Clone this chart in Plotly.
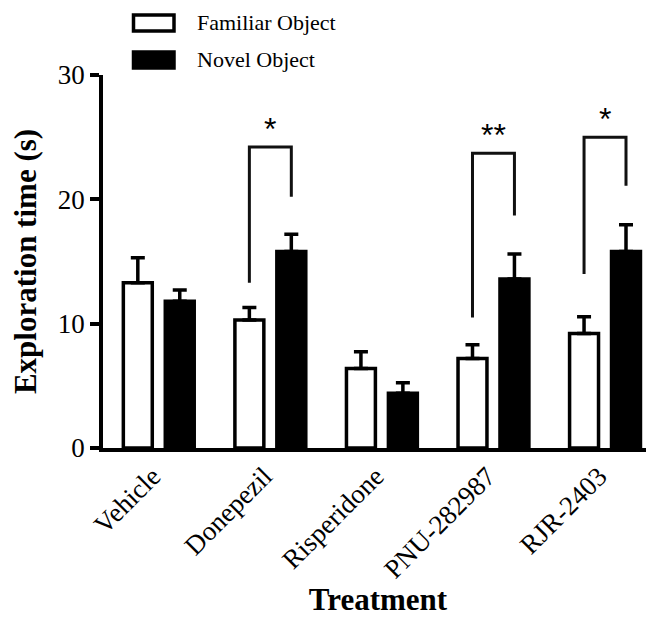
import numpy as np
import plotly.graph_objects as go

categories = ["Vehicle", "Donepezil", "Risperidone", "PNU-282987", "RJR-2403"]
familiar = [13.3, 10.3, 6.4, 7.2, 9.2]
familiar_err = [2.0, 1.0, 1.35, 1.1, 1.35]
novel = [11.8, 15.8, 4.4, 13.6, 15.8]
novel_err = [0.9, 1.4, 0.85, 2.0, 2.15]

# significance brackets: group index, top, left-leg bottom, right-leg bottom, label
sig_groups = [1, 3, 4]
sig_top = [24.2, 23.7, 25.0]
sig_left_bottom = [13.3, 10.5, 14.0]
sig_right_bottom = [20.2, 18.7, 21.1]
sig_labels = ["*", "**", "*"]

y_ticks = [0, 10, 20, 30]

# page body has an 8px margin, so the figure is laid out 8px up/left
OFF = 8
W, H = 646, 609
ML, MR, MT, MB = 103 - OFF, 1, 75 - OFF, 177 - OFF
BAR_OFF = 0.188
LW = 3.5

x = np.arange(len(categories))
fig = go.Figure()
fig.add_trace(go.Bar(
    x=x, y=familiar, name="Familiar Object",
    marker=dict(color="white", line=dict(color="black", width=LW)),
    error_y=dict(type="data", symmetric=False, array=familiar_err,
                 arrayminus=[0] * len(familiar), color="black",
                 thickness=3.5, width=7),
    showlegend=False,
))
fig.add_trace(go.Bar(
    x=x, y=novel, name="Novel Object",
    marker=dict(color="black", line=dict(color="black", width=LW)),
    error_y=dict(type="data", symmetric=False, array=novel_err,
                 arrayminus=[0] * len(novel), color="black",
                 thickness=3.5, width=7),
    showlegend=False,
))

for g, top, lb, rb, lab in zip(sig_groups, sig_top, sig_left_bottom, sig_right_bottom, sig_labels):
    xl, xr = g - BAR_OFF, g + BAR_OFF
    fig.add_trace(go.Scatter(
        x=[xl, xl, xr, xr], y=[lb, top, top, rb], mode="lines",
        line=dict(color="#111111", width=3), showlegend=False, hoverinfo="skip",
    ))
    fig.add_annotation(
        x=g, y=top, xref="x", yref="y", text=lab, showarrow=False,
        yanchor="bottom", yshift=-2,
        font=dict(family="Liberation Sans", size=32, color="black"),
    )

# custom legend (positions given in reference-page pixels)
def px2paper(px, py):
    px, py = px - OFF, py - OFF
    return (px - ML) / (W - ML - MR), (H - MB - py) / (H - MT - MB)

legend_items = [("Familiar Object", "white", 23), ("Novel Object", "black", 60)]
for label, fill, cy in legend_items:
    x0, y0 = px2paper(133.5, cy - 8)
    x1, y1 = px2paper(174, cy + 8)
    fig.add_shape(type="rect", xref="paper", yref="paper", x0=x0, x1=x1, y0=y0, y1=y1,
                  fillcolor=fill, line=dict(color="black", width=LW))
    tx, ty = px2paper(195, cy)
    fig.add_annotation(x=tx, y=ty, xref="paper", yref="paper", text=label, showarrow=False,
                       xanchor="left", yanchor="middle",
                       font=dict(family="Liberation Serif", size=22, color="black"))

fig.update_layout(
    width=W, height=H,
    margin=dict(l=ML, r=MR, t=MT, b=MB),
    paper_bgcolor="white", plot_bgcolor="white",
    barmode="group", bargap=0.248, bargroupgap=0.31,
    font=dict(family="Liberation Serif", color="black"),
    showlegend=False,
)
fig.update_xaxes(
    automargin=False,
    range=[-0.5, 4.43], tickvals=list(x), ticktext=categories, tickangle=-45,
    showline=True, linecolor="black", linewidth=LW, showgrid=False, zeroline=False,
    ticks="", ticklabelstandoff=-2, ticklabelshift=-6,
    tickfont=dict(family="Liberation Serif", size=27, color="black"),
    title=dict(text="<b>Treatment</b>", standoff=16,
               font=dict(family="Liberation Serif", size=31, color="black")),
)
fig.update_yaxes(
    automargin=False,
    range=[0, 30], tickvals=y_ticks,
    showline=True, linecolor="black", linewidth=LW, showgrid=False, zeroline=False,
    ticks="outside", ticklen=9, tickwidth=3.5, tickcolor="black",
    tickfont=dict(family="Liberation Serif", size=27, color="black"),
    title=dict(text="<b>Exploration time (s)</b>", standoff=14,
               font=dict(family="Liberation Serif", size=31, color="black")),
)

fig.write_html("out.html")
